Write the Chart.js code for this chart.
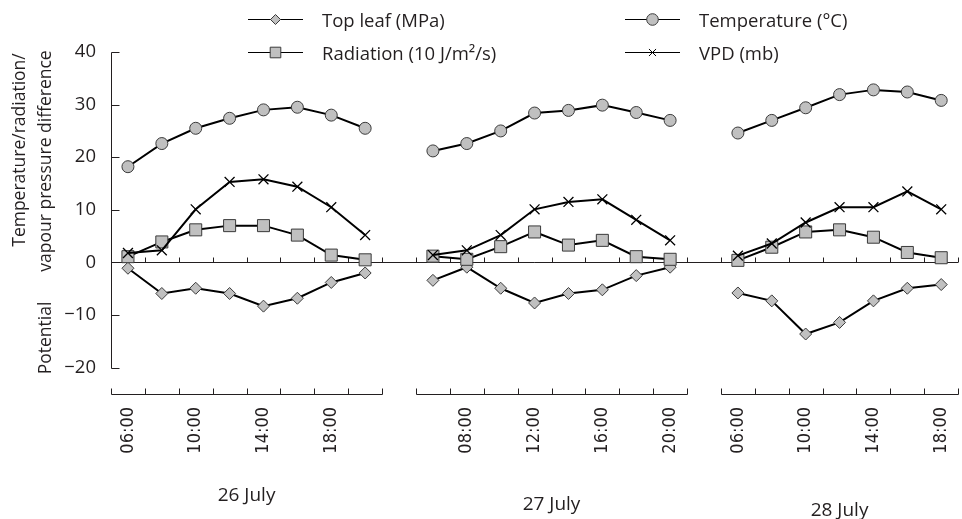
<!DOCTYPE html>
<html><head><meta charset="utf-8">
<script src="https://cdn.jsdelivr.net/npm/chart.js@4.4.1/dist/chart.umd.min.js"></script>
<style>
html,body{margin:0;padding:0;overflow:hidden;background:#fff;width:962px;height:519px}
#wrap{position:relative;width:976px;height:519px}
</style>
</head><body><div id="wrap"><canvas id="c" width="976" height="519"></canvas></div>
<script>
// ---- data ----
const dayLabels = ['26 July', '27 July', '28 July'];
const hours26 = ['06:00','08:00','10:00','12:00','14:00','16:00','18:00','20:00'];
const hours27 = ['06:00','08:00','10:00','12:00','14:00','16:00','18:00','20:00'];
const hours28 = ['06:00','08:00','10:00','12:00','14:00','16:00','18:00'];
const xTickLabels = ['06:00','','10:00','','14:00','','18:00','', '',
                     '','08:00','','12:00','','16:00','','20:00', '',
                     '06:00','','10:00','','14:00','','18:00'];
const yTicks = [-20, -10, 0, 10, 20, 30, 40];
const seriesNames = ['Top leaf (MPa)', 'Temperature (\u00b0C)', 'Radiation (10 J/m\u00b2/s)', 'VPD (mb)'];

const leaf26 = [-1.1, -5.9, -4.9, -5.9, -8.3, -6.8, -3.8, -2.0];
const leaf27 = [-3.4, -0.9, -4.9, -7.7, -5.9, -5.2, -2.5, -0.9];
const leaf28 = [-5.8, -7.3, -13.6, -11.4, -7.3, -4.9, -4.2];

const temp26 = [18.2, 22.6, 25.5, 27.4, 29.0, 29.5, 28.0, 25.5];
const temp27 = [21.2, 22.6, 25.0, 28.4, 28.9, 29.9, 28.5, 27.0];
const temp28 = [24.6, 27.0, 29.4, 31.9, 32.8, 32.4, 30.8];

const rad26 = [1.1, 3.9, 6.2, 7.0, 7.0, 5.2, 1.4, 0.5];
const rad27 = [1.2, 0.6, 3.0, 5.8, 3.3, 4.2, 1.1, 0.6];
const rad28 = [0.4, 2.9, 5.8, 6.2, 4.8, 1.9, 0.9];

const vpd26 = [1.8, 2.3, 10.1, 15.3, 15.8, 14.4, 10.5, 5.2];
const vpd27 = [1.4, 2.3, 5.2, 10.1, 11.5, 12.0, 8.1, 4.2];
const vpd28 = [1.3, 3.6, 7.6, 10.5, 10.5, 13.5, 10.1];

// ---- build ----
const joinDays = (a, b, c) => [...a, null, ...b, null, ...c];
const categories = joinDays(hours26, hours27, hours28).map(v => v === null ? '' : v);
const dayRanges = [
  [0, hours26.length],
  [hours26.length + 1, hours27.length],
  [hours26.length + hours27.length + 2, hours28.length]
];

const TXT = '#231f20';
const FILL = '#c0c0c0';
const EDGE = '#3a3a3a';
const OPEN = "'Open Sans', 'Liberation Sans', sans-serif";
const COND = "'DejaVu Sans Condensed', 'DejaVu Sans', sans-serif";

const markerStyles = [
  {pointStyle: 'rectRot', radius: 6, legendRadius: 5},
  {pointStyle: 'circle', radius: 6, legendRadius: 5.8},
  {pointStyle: 'rect', radius: 8.5, legendRadius: 7.5},
  {pointStyle: 'crossRot', radius: 7, legendRadius: 5}
];
const seriesData = [
  joinDays(leaf26, leaf27, leaf28),
  joinDays(temp26, temp27, temp28),
  joinDays(rad26, rad27, rad28),
  joinDays(vpd26, vpd27, vpd28)
];
const drawOrder = [3, 2, 1, 0];

const datasets = seriesNames.map((name, i) => ({
  label: name,
  data: seriesData[i],
  order: drawOrder[i],
  borderColor: '#000',
  borderWidth: 2,
  spanGaps: false,
  pointStyle: markerStyles[i].pointStyle,
  pointRadius: markerStyles[i].radius,
  pointBackgroundColor: FILL,
  pointBorderColor: i === 3 ? '#000' : EDGE,
  pointBorderWidth: i === 3 ? 1.3 : 1,
  tension: 0
}));

const customDraw = {
  id: 'customDraw',
  beforeDatasetsDraw(chart) {
    const {ctx, chartArea, scales: {x, y}} = chart;
    const half = (x.getPixelForValue(1) - x.getPixelForValue(0)) / 2;
    ctx.save();
    ctx.strokeStyle = TXT;
    ctx.lineWidth = 1;
    // y axis line with inward ticks
    const ax = Math.round(chartArea.left) + 0.5;
    const yTop = Math.round(y.getPixelForValue(yTicks[yTicks.length - 1])) + 0.5;
    const yBot = Math.round(y.getPixelForValue(yTicks[0])) + 0.5;
    ctx.beginPath();
    ctx.moveTo(ax, yTop); ctx.lineTo(ax, yBot);
    yTicks.forEach(v => {
      const py = Math.round(y.getPixelForValue(v)) + 0.5;
      ctx.moveTo(ax, py); ctx.lineTo(ax + 8, py);
    });
    ctx.stroke();
    // zero line with ticks between categories
    const z = Math.round(y.getPixelForValue(0)) + 0.5;
    ctx.beginPath();
    ctx.moveTo(ax, z); ctx.lineTo(chartArea.right, z);
    for (let i = 0; i < categories.length; i++) {
      const px = Math.round(x.getPixelForValue(i) + half) + 0.5;
      ctx.moveTo(px, z); ctx.lineTo(px, z - 5);
    }
    ctx.stroke();
    // bottom axis segments, one per day
    const b = Math.round(chartArea.bottom) + 0.5;
    ctx.beginPath();
    dayRanges.forEach(([s, n]) => {
      const x0 = Math.round(x.getPixelForValue(s) - half) + 0.5;
      const x1 = Math.round(x.getPixelForValue(s + n - 1) + half) + 0.5;
      ctx.moveTo(x0, b); ctx.lineTo(x1, b);
      for (let i = s; i <= s + n; i++) {
        const px = Math.round(x.getPixelForValue(i) - half) + 0.5;
        ctx.moveTo(px, b); ctx.lineTo(px, b - 6);
      }
    });
    ctx.stroke();
    ctx.restore();
  },
  afterDraw(chart) {
    const {ctx, scales: {x}} = chart;
    ctx.save();
    // legend (2 x 2)
    const cols = [248, 625], rows = [19, 52], textBase = [27, 59.5];
    const legendPos = [[0, 0], [1, 0], [0, 1], [1, 1]];
    chart.data.datasets.forEach((ds, i) => {
      const [c, r] = legendPos[i];
      const lx = cols[c], ly = rows[r] + 0.5;
      ctx.strokeStyle = '#000'; ctx.lineWidth = 1;
      ctx.beginPath(); ctx.moveTo(lx, ly); ctx.lineTo(lx + 55, ly); ctx.stroke();
      ctx.fillStyle = FILL;
      ctx.strokeStyle = i === 3 ? '#000' : EDGE;
      ctx.lineWidth = 1;
      Chart.helpers.drawPoint(ctx, {pointStyle: markerStyles[i].pointStyle, radius: markerStyles[i].legendRadius, rotation: 0, borderWidth: 1}, lx + 27.5, ly);
      ctx.fillStyle = TXT;
      ctx.font = '18.5px ' + OPEN;
      ctx.textAlign = 'left'; ctx.textBaseline = 'alphabetic';
      ctx.fillText(ds.label, lx + 74, textBase[r]);
    });
    // y axis titles
    ctx.fillStyle = TXT;
    ctx.font = '17.5px ' + OPEN;
    ctx.textAlign = 'center'; ctx.textBaseline = 'middle';
    const vText = (t, cx, cy) => { ctx.save(); ctx.translate(cx, cy); ctx.rotate(-Math.PI / 2); ctx.fillText(t, 0, 0); ctx.restore(); };
    vText('Temperature/radiation/', 20, 150);
    vText('vapour pressure difference', 46, 161);
    vText('Potential', 46, 338);
    // day labels
    ctx.font = '19px ' + OPEN;
    ctx.textBaseline = 'alphabetic';
    const dayY = [501, 510, 516];
    dayRanges.forEach(([s, n], i) => {
      const cx = (x.getPixelForValue(s) + x.getPixelForValue(s + n - 1)) / 2;
      ctx.fillText(dayLabels[i], cx, dayY[i]);
    });
    ctx.restore();
  }
};

new Chart(document.getElementById('c'), {
  type: 'line',
  data: {labels: categories, datasets},
  options: {
    responsive: false,
    animation: false,
    devicePixelRatio: 1,
    layout: {padding: {top: 52, right: 5, left: 0, bottom: 0}},
    plugins: {legend: {display: false}, tooltip: {enabled: false}},
    scales: {
      x: {
        type: 'category',
        offset: true,
        grid: {display: false, drawTicks: false, tickLength: 0},
        border: {display: false},
        ticks: {
          autoSkip: false, minRotation: 90, maxRotation: 90, padding: 13,
          color: TXT, font: {family: COND, size: 18},
          callback: (v, idx) => xTickLabels[idx]
        },
        afterFit: s => { s.height = 125; }
      },
      y: {
        min: -25, max: 40,
        grid: {display: false, drawTicks: false, tickLength: 0},
        border: {display: false},
        afterBuildTicks: s => { s.ticks = yTicks.map(v => ({value: v})); },
        ticks: {
          padding: 15, color: TXT, font: {family: OPEN, size: 18.5},
          callback: v => String(v).replace('-', '\u2212')
        },
        afterFit: s => { s.width = 111; }
      }
    }
  },
  plugins: [customDraw]
});
</script>
</body></html>
